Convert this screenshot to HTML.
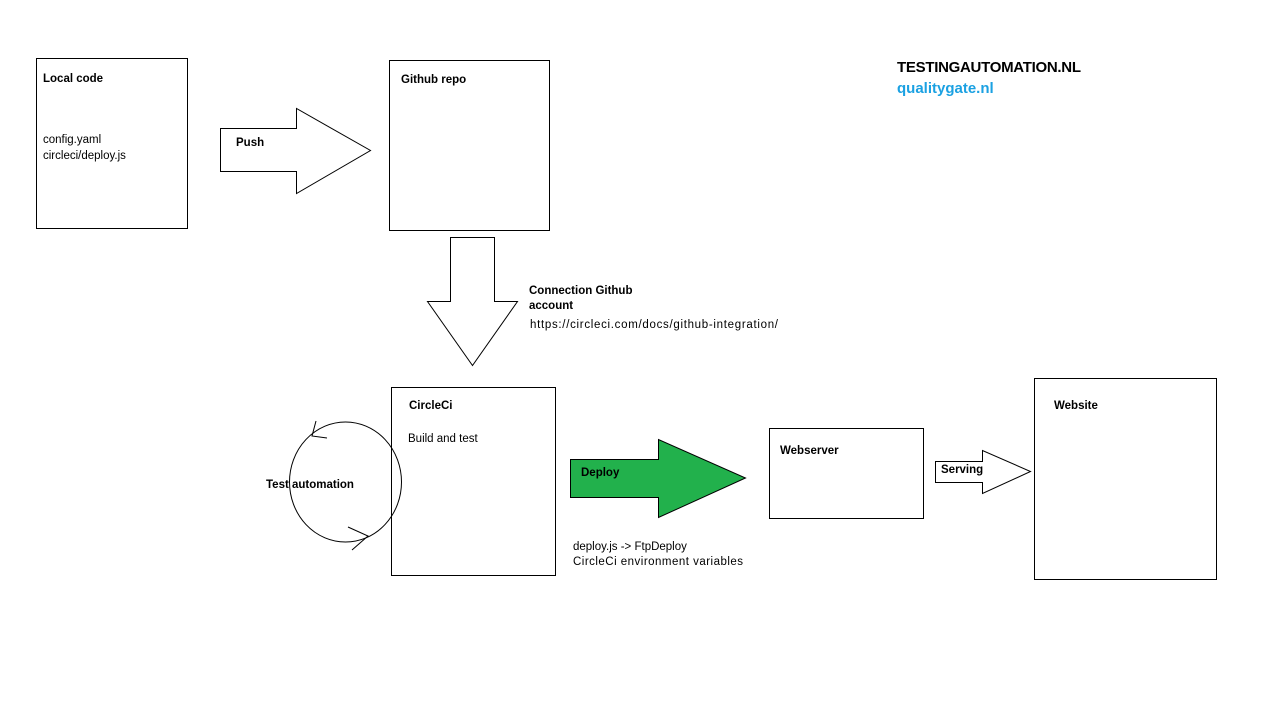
<!DOCTYPE html>
<html><head><meta charset="utf-8"><style>
html,body{margin:0;padding:0;background:#fff;}
svg text{font-family:"Liberation Sans",sans-serif;font-size:11.5px;fill:#000;}
.b{font-weight:bold;}
</style></head><body>
<svg width="1271" height="702" viewBox="0 0 1271 702" xmlns="http://www.w3.org/2000/svg">
<g fill="none" stroke="#000" stroke-width="1">
<rect x="36.5" y="58.5" width="151" height="170"/>
<rect x="389.5" y="60.5" width="160" height="170"/>
<rect x="391.5" y="387.5" width="164" height="188"/>
<rect x="769.5" y="428.5" width="154" height="90"/>
<rect x="1034.5" y="378.5" width="182" height="201"/>
<polygon points="220.5,128.5 296.5,128.5 296.5,108.5 370.5,150.5 296.5,193.5 296.5,171.5 220.5,171.5"/>
<polygon points="450.5,237.5 494.5,237.5 494.5,301.5 517.5,301.5 472.5,365.5 427.5,301.5 450.5,301.5"/>
<polygon points="935.5,461.5 982.5,461.5 982.5,450.5 1030.5,471.5 982.5,493.5 982.5,482.5 935.5,482.5"/>
<ellipse cx="345.5" cy="482" rx="56" ry="60"/>
<polyline points="316,421 312,436 327,438"/>
<polyline points="348,527 368,536 352,550"/>
</g>
<polygon points="570.5,459.5 658.5,459.5 658.5,439.5 745.5,478 658.5,517.5 658.5,497.5 570.5,497.5" fill="#22b14c" stroke="#000" stroke-width="1"/>
<text class="b" x="43" y="82">Local code</text>
<text x="43" y="143">config.yaml</text>
<text x="43" y="159">circleci/deploy.js</text>
<text class="b" x="236" y="146">Push</text>
<text class="b" x="401" y="83">Github repo</text>
<text class="b" x="529" y="294">Connection Github</text>
<text class="b" x="529" y="309">account</text>
<text x="530" y="328" textLength="248">https://circleci.com/docs/github-integration/</text>
<text class="b" x="409" y="409">CircleCi</text>
<text x="408" y="442">Build and test</text>
<text class="b" x="266" y="488">Test automation</text>
<text class="b" x="581" y="476" style="fill:#000">Deploy</text>
<text x="573" y="550">deploy.js -&gt; FtpDeploy</text>
<text x="573" y="565" textLength="170">CircleCi environment variables</text>
<text class="b" x="780" y="454">Webserver</text>
<text class="b" x="941" y="473">Serving</text>
<text class="b" x="1054" y="409">Website</text>
<text class="b" x="897" y="72" style="font-size:15px" textLength="184">TESTINGAUTOMATION.NL</text>
<text class="b" x="897" y="93" style="font-size:15px;fill:#1ba1e2">qualitygate.nl</text>
</svg>
</body></html>
